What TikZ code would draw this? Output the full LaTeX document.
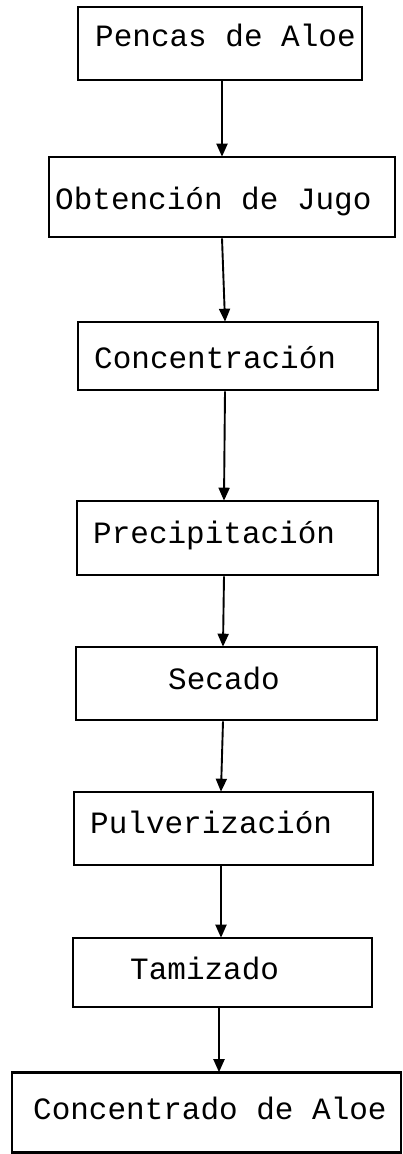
\documentclass[tikz,border=0pt]{standalone}
\usepackage{fontspec}
\setmainfont{Liberation Mono}
\usetikzlibrary{arrows.meta}
\tikzset{
  box/.style={draw, line width=2.6pt, inner sep=0pt, rectangle},
  lbl/.style={anchor=base west, inner sep=0pt, font=\fontsize{31}{36}\selectfont},
  arr/.style={line width=1.9pt, -{Triangle[length=13pt,width=11pt]}, shorten >=-1pt}
}
\begin{document}
\begin{tikzpicture}[x=1pt,y=1pt]
\useasboundingbox (0,0) rectangle (402,-1154);
% boxes: center and size from pixel extents
\node[box, minimum width=284, minimum height=73] (b1) at (220,-43.5) {};
\node[box, minimum width=346, minimum height=80] (b2) at (222,-197) {};
\node[box, minimum width=300, minimum height=68] (b3) at (228,-356) {};
\node[box, minimum width=301, minimum height=74] (b4) at (227.5,-538) {};
\node[box, minimum width=301, minimum height=73] (b5) at (226.5,-683.5) {};
\node[box, minimum width=299, minimum height=73] (b6) at (223.5,-828.5) {};
\node[box, minimum width=299, minimum height=69] (b7) at (222.5,-972.5) {};
\node[box, minimum width=389, minimum height=80] (b8) at (206.5,-1112.5) {};
% labels
\node[lbl] (t1) at (95,-46) {Pencas de Aloe};
\node[lbl] (t2) at (55,-209) {Obtención de Jugo};
\node[lbl] (t3) at (94,-368) {Concentración};
\node[lbl] (t4) at (93,-543) {Precipitación};
\node[lbl] (t5) at (168,-689) {Secado};
\node[lbl] (t6) at (90,-833) {Pulverización};
\node[lbl] (t7) at (130,-979) {Tamizado};
\node[lbl] (t8) at (33,-1119) {Concentrado de Aloe};
% arrows
\draw[arr] ([xshift=2pt]b1.south) -- (b2.north);
\draw[arr] (b2.south) -- ([xshift=-3pt]b3.north);
\draw[arr] ([xshift=-3pt]b3.south) -- ([xshift=-3.5pt]b4.north);
\draw[arr] ([xshift=-3.5pt]b4.south) -- ([xshift=-3.5pt]b5.north);
\draw[arr] ([xshift=-3.5pt]b5.south) -- ([xshift=-2.5pt]b6.north);
\draw[arr] ([xshift=-2.5pt]b6.south) -- ([xshift=-1.5pt]b7.north);
\draw[arr] ([xshift=-3.5pt]b7.south) -- ([xshift=12.5pt]b8.north);
\end{tikzpicture}
\end{document}
